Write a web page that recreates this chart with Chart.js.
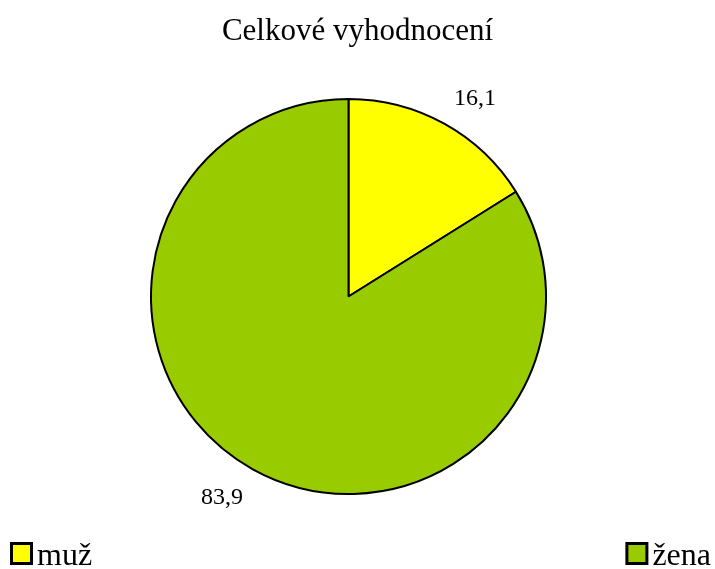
<!DOCTYPE html>
<html>
<head>
<meta charset="utf-8">
<title>Celkové vyhodnocení</title>
<script src="https://cdn.jsdelivr.net/npm/chart.js"></script>
<style>
  html, body { margin: 0; padding: 0; background: #fff; }
  #wrap { width: 715px; height: 569px; }
</style>
</head>
<body>
<div id="wrap"><canvas id="graf" width="715" height="569"></canvas></div>
<script>
'use strict';
/*-------------------------------------------------------*\
     Data
\*-------------------------------------------------------*/
var kategorie = ['muž', 'žena'];
var hodnoty = [16.1, 83.9];
var barvy = ['#ffff00', '#99cc00'];
var titulek = 'Celkové vyhodnocení';

var pismo = "'Liberation Serif', 'Times New Roman', serif";

// formát čísla s desetinnou čárkou
function cislo(v) {
  return v.toFixed(1).replace('.', ',');
}

/*-------------------------------------------------------*\
     Plugin : titulek, popisky a legenda (ve stylu Excelu)
\*-------------------------------------------------------*/
var popisky = {
  id: 'popisky',
  afterDraw: function(chart) {
    var ctx = chart.ctx;
    var arcs = chart.getDatasetMeta(0).data;
    ctx.save();
    ctx.fillStyle = '#000';

    // titulek
    ctx.font = '31px ' + pismo;
    ctx.textAlign = 'center';
    ctx.textBaseline = 'alphabetic';
    ctx.fillText(titulek, chart.width / 2, 40);

    // hodnoty mimo výseče
    ctx.font = '24px ' + pismo;
    arcs.forEach(function(arc, i) {
      var p = arc.getProps(['x', 'y', 'startAngle', 'endAngle', 'outerRadius'], true);
      var uhel = (p.startAngle + p.endAngle) / 2;
      var dx = Math.cos(uhel);
      var dy = Math.sin(uhel);
      var r = p.outerRadius + 20;
      var txt = cislo(hodnoty[i]);
      var w = ctx.measureText(txt).width;
      var h = 19;
      var cx = p.x + dx * r + Math.sign(dx) * w / 2;
      var cy = p.y + dy * r + Math.sign(dy) * h / 2;
      ctx.textAlign = 'center';
      ctx.fillText(txt, cx, cy + 8);
    });

    // legenda : první vlevo, poslední vpravo
    ctx.font = '32px ' + pismo;
    ctx.lineWidth = 3;
    kategorie.forEach(function(k, i) {
      var tw = ctx.measureText(k).width;
      var x = i === 0 ? 11 : chart.width - 4 - tw - 26;
      ctx.fillStyle = barvy[i];
      ctx.fillRect(x, 543, 21, 21);
      ctx.strokeStyle = '#000';
      ctx.strokeRect(x + 0.5, 543.5, 20, 20);
      ctx.fillStyle = '#000';
      ctx.textAlign = 'left';
      ctx.fillText(k, x + 26, 565);
    });
    ctx.restore();
  }
};

/*-------------------------------------------------------*\
     Graf
\*-------------------------------------------------------*/
var graf = new Chart(document.getElementById('graf'), {
  type: 'pie',
  data: {
    labels: kategorie,
    datasets: [{
      data: hodnoty,
      backgroundColor: barvy,
      borderColor: '#000',
      borderWidth: 2
    }]
  },
  options: {
    responsive: false,
    animation: false,
    layout: {
      padding: { top: 98, bottom: 74, left: 150, right: 168 }
    },
    plugins: {
      legend: { display: false },
      tooltip: { enabled: false },
      title: { display: false }
    }
  },
  plugins: [popisky]
});
</script>
</body>
</html>
